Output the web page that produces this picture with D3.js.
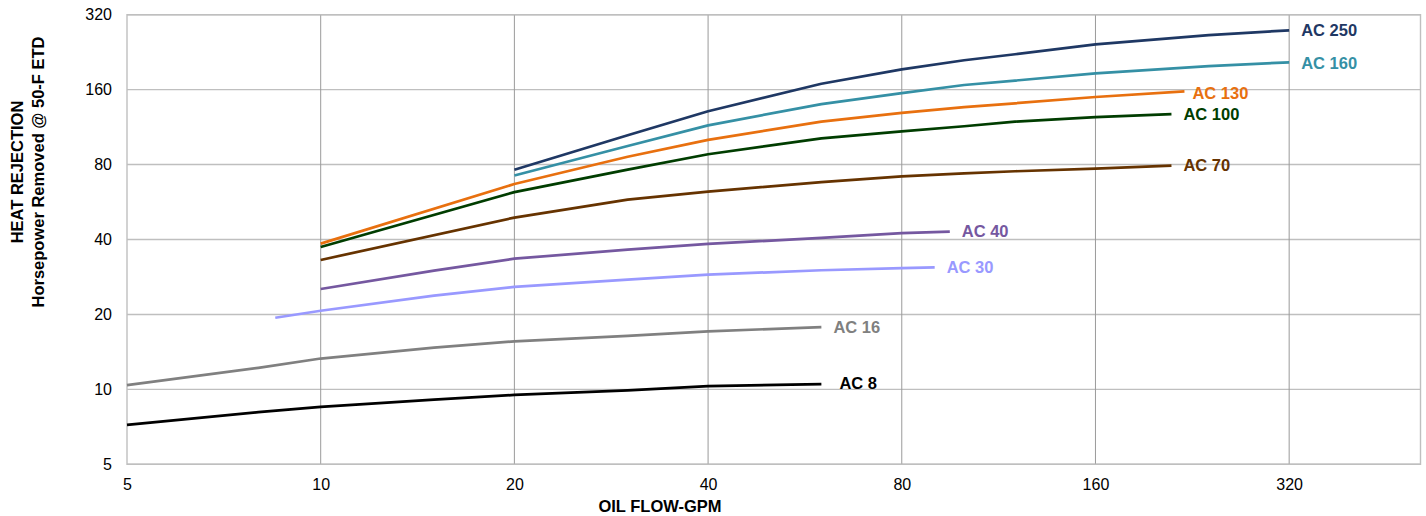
<!DOCTYPE html>
<html>
<head>
<meta charset="utf-8">
<script src="https://cdn.jsdelivr.net/npm/d3@7"></script>
<style>
  html, body { margin: 0; padding: 0; background: #fff; }
  svg { display: block; font-family: Arial, "Liberation Sans", sans-serif; }
</style>
</head>
<body>
<div id="chart"></div>
<script>
// Oil flow (GPM) vs heat rejection (HP removed @ 50-F ETD)
const xTicks = [5, 10, 20, 40, 80, 160, 320];
const yTicks = [5, 10, 20, 40, 80, 160, 320];

const seriesNames = ['AC 8', 'AC 16', 'AC 30', 'AC 40', 'AC 70', 'AC 100', 'AC 130', 'AC 160', 'AC 250'];

const ac8   = [[5, 7.2], [8, 8.1], [10, 8.5], [15, 9.1], [20, 9.5], [30, 9.9], [40, 10.3], [60, 10.5]];
const ac16  = [[5, 10.4], [8, 12.2], [10, 13.3], [15, 14.7], [20, 15.6], [30, 16.4], [40, 17.1], [60, 17.8]];
const ac30  = [[8.5, 19.4], [10, 20.7], [15, 23.8], [20, 25.8], [30, 27.6], [40, 28.9], [60, 30.1], [80, 30.7], [90, 30.9]];
const ac40  = [[10, 25.3], [15, 30.0], [20, 33.5], [30, 36.4], [40, 38.4], [60, 40.6], [80, 42.4], [95, 43.0]];
const ac70  = [[10, 33.1], [20, 49], [30, 57.8], [40, 62.3], [60, 68], [80, 71.7], [100, 73.8], [120, 75.2], [160, 77], [210, 79.2]];
const ac100 = [[10, 37.3], [20, 62], [30, 76.3], [40, 88], [60, 102], [80, 108.7], [100, 114], [120, 119], [160, 124], [210, 127.5]];
const ac130 = [[10, 38.5], [20, 66.8], [30, 86], [40, 100.5], [60, 119], [80, 129], [100, 136], [120, 141], [160, 149.5], [220, 157.5]];
const ac160 = [[20, 72.3], [30, 95], [40, 115], [60, 140], [80, 155], [100, 167], [120, 174], [160, 186], [240, 199], [320, 206]];
const ac250 = [[20, 76.3], [30, 105], [40, 131], [60, 169], [80, 193], [100, 210], [120, 222], [160, 243], [240, 265], [320, 277]];

const seriesValues = [ac8, ac16, ac30, ac40, ac70, ac100, ac130, ac160, ac250];

const colors = ['#000000', '#808080', '#9999ff', '#7558a0', '#663300', '#003d00', '#e8700f', '#3590a5', '#1f3864'];
// label nudges relative to line end [dx, dy]
const labelNudge = {
  'AC 8': [18, -1],
  'AC 130': [8, 2],
  'AC 160': [12, 1]
};

const width = 1426, height = 516;
const plot = { left: 127, right: 1420.5, top: 14.7, bottom: 464.3 };

const svg = d3.select('#chart').append('svg')
  .attr('width', width)
  .attr('height', height);

const x = d3.scaleLog().base(2).domain([5, 512]).range([plot.left, plot.right]);
const y = d3.scaleLog().base(2).domain([5, 320]).range([plot.bottom, plot.top]);

// horizontal grid
svg.append('g')
  .selectAll('line')
  .data(yTicks)
  .join('line')
  .attr('x1', plot.left).attr('x2', plot.right)
  .attr('y1', d => y(d)).attr('y2', d => y(d))
  .style('stroke', '#bfbfbf')
  .style('stroke-width', 1.4);

// vertical grid
svg.append('g')
  .selectAll('line')
  .data(xTicks.slice(1))
  .join('line')
  .attr('x1', d => x(d)).attr('x2', d => x(d))
  .attr('y1', plot.top).attr('y2', plot.bottom)
  .style('stroke', '#9a9a9a')
  .style('stroke-width', 1);

// plot frame
svg.append('rect')
  .attr('x', plot.left).attr('y', plot.top)
  .attr('width', plot.right - plot.left)
  .attr('height', plot.bottom - plot.top)
  .style('fill', 'none')
  .style('stroke', '#bfbfbf')
  .style('stroke-width', 1.4);

// axes (labels only)
const yAxis = d3.axisLeft(y).tickValues(yTicks).tickFormat(d3.format('d')).tickSize(0).tickPadding(15);
svg.append('g')
  .attr('transform', `translate(${plot.left},0)`)
  .call(yAxis)
  .call(g => g.select('.domain').remove())
  .selectAll('text')
  .style('font-size', '16px')
  .style('fill', '#000')
  .style('font-family', 'Arial, "Liberation Sans", sans-serif');

const xAxis = d3.axisBottom(x).tickValues(xTicks).tickFormat(d3.format('d')).tickSize(0).tickPadding(14);
svg.append('g')
  .attr('transform', `translate(0,${plot.bottom})`)
  .call(xAxis)
  .call(g => g.select('.domain').remove())
  .selectAll('text')
  .style('font-size', '16px')
  .style('fill', '#000')
  .style('font-family', 'Arial, "Liberation Sans", sans-serif');

// axis titles
svg.append('text')
  .attr('x', 660)
  .attr('y', 511.5)
  .attr('text-anchor', 'middle')
  .style('font-size', '16.5px')
  .style('font-weight', 'bold')
  .text('OIL FLOW-GPM');

svg.append('text')
  .attr('transform', 'translate(23,172) rotate(-90)')
  .attr('text-anchor', 'middle')
  .style('font-size', '16.5px')
  .style('font-weight', 'bold')
  .text('HEAT REJECTION');

svg.append('text')
  .attr('transform', 'translate(43.5,172) rotate(-90)')
  .attr('text-anchor', 'middle')
  .style('font-size', '16.5px')
  .style('font-weight', 'bold')
  .text('Horsepower Removed @ 50-F ETD');

// lines
const line = d3.line()
  .x(d => x(d[0]))
  .y(d => y(d[1]));

seriesNames.forEach((name, i) => {
  const pts = seriesValues[i];
  svg.append('path')
    .datum(pts)
    .attr('d', line)
    .style('fill', 'none')
    .style('stroke', colors[i])
    .style('stroke-width', 2.7)
    .style('stroke-linejoin', 'round');

  const last = pts[pts.length - 1];
  const nudge = labelNudge[name] || [12, 0];
  svg.append('text')
    .attr('x', x(last[0]) + nudge[0])
    .attr('y', y(last[1]) + nudge[1])
    .attr('dy', '0.35em')
    .style('font-size', '16.5px')
    .style('font-weight', 'bold')
    .style('fill', colors[i])
    .text(name);
});
</script>
</body>
</html>
